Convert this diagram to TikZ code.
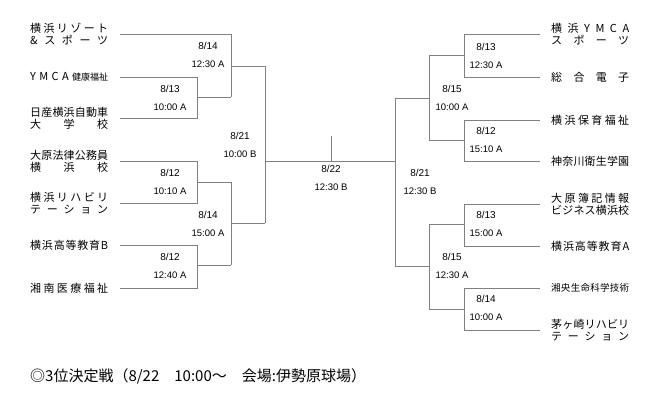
\documentclass[tikz,border=0pt]{standalone}
\usepackage{fontspec}
\setmainfont{Liberation Sans}
\newfontfamily\jp{Noto Sans CJK JP}
\newcommand\tm[1]{\makebox[78pt][s]{#1}}
\begin{document}
\begin{tikzpicture}[x=1pt,y=-1pt,
  ln/.style={draw=black!50,line width=0.8pt},
  nm/.style={anchor=west,inner sep=0pt,align=left,font=\jp\fontsize{11}{12}\selectfont},
  dt/.style={inner sep=0pt,font=\fontsize{9.5}{10}\selectfont}]
\useasboundingbox (0,0) rectangle (662,410);
% left names
\node[nm] (l1) at (30,34) {\tm{横\hfill 浜\hfill リ\hfill ゾ\hfill ー\hfill ト}\\\tm{\&\hfill ス\hfill ポ\hfill ー\hfill ツ}};
\node[nm] (l2) at (30,77) {\tm{Y\hfill M\hfill C\hfill A\hfill{\fontsize{9}{10}\selectfont 健康福祉}}};
\node[nm] (l3) at (30,118) {\tm{日\hfill 産\hfill 横\hfill 浜\hfill 自\hfill 動\hfill 車}\\\tm{大\hfill 学\hfill 校}};
\node[nm] (l4) at (30,161) {\tm{大\hfill 原\hfill 法\hfill 律\hfill 公\hfill 務\hfill 員}\\\tm{横\hfill 浜\hfill 校}};
\node[nm] (l5) at (30,203) {\tm{横\hfill 浜\hfill リ\hfill ハ\hfill ビ\hfill リ}\\\tm{テ\hfill ー\hfill シ\hfill ョ\hfill ン}};
\node[nm] (l6) at (30,245) {\tm{横\hfill 浜\hfill 高\hfill 等\hfill 教\hfill 育\hfill B}};
\node[nm] (l7) at (30,288) {\tm{湘\hfill 南\hfill 医\hfill 療\hfill 福\hfill 祉}};
% right names
\node[nm] (r1) at (551,34) {\tm{横\hfill 浜\hfill Y\hfill M\hfill C\hfill A}\\\tm{ス\hfill ポ\hfill ー\hfill ツ}};
\node[nm] (r2) at (551,77) {\tm{総\hfill 合\hfill 電\hfill 子}};
\node[nm] (r3) at (551,120) {\tm{横\hfill 浜\hfill 保\hfill 育\hfill 福\hfill 祉}};
\node[nm] (r4) at (551,161) {\tm{神\hfill 奈\hfill 川\hfill 衛\hfill 生\hfill 学\hfill 園}};
\node[nm] (r5) at (551,204) {\tm{大\hfill 原\hfill 簿\hfill 記\hfill 情\hfill 報}\\\tm{ビ\hfill ジ\hfill ネ\hfill ス\hfill 横\hfill 浜\hfill 校}};
\node[nm] (r6) at (551,246) {\tm{横\hfill 浜\hfill 高\hfill 等\hfill 教\hfill 育\hfill A}};
\node[nm] (r7) at (551,288) {\tm{\fontsize{9.5}{10}\selectfont 湘\hfill 央\hfill 生\hfill 命\hfill 科\hfill 学\hfill 技\hfill 術}};
\node[nm] (r8) at (551,330) {\tm{茅\hfill ヶ\hfill 崎\hfill リ\hfill ハ\hfill ビ\hfill リ}\\\tm{テ\hfill ー\hfill シ\hfill ョ\hfill ン}};
% left lines
\draw[ln] (120,34)--(231,34)--(231,97);
\draw[ln] (120,77)--(197,77)--(197,118)--(120,118);
\draw[ln] (197,97)--(231,97);
\draw[ln] (231,66)--(265,66);
\draw[ln] (120,161)--(197,161)--(197,203)--(120,203);
\draw[ln] (197,182)--(231,182);
\draw[ln] (120,245)--(197,245)--(197,288)--(120,288);
\draw[ln] (197,265)--(231,265);
\draw[ln] (231,182)--(231,265);
\draw[ln] (231,223)--(265,223);
\draw[ln] (265,66)--(265,223);
\draw[ln] (265,161)--(395,161);
\draw[ln] (331,136)--(331,161);
% right lines
\draw[ln] (540,34)--(464,34)--(464,77)--(540,77);
\draw[ln] (464,55)--(429,55);
\draw[ln] (540,120)--(464,120)--(464,161)--(540,161);
\draw[ln] (464,140)--(429,140);
\draw[ln] (429,55)--(429,140);
\draw[ln] (429,98)--(395,98);
\draw[ln] (540,204)--(464,204)--(464,246)--(540,246);
\draw[ln] (464,224)--(429,224);
\draw[ln] (540,288)--(464,288)--(464,330)--(540,330);
\draw[ln] (464,309)--(429,309);
\draw[ln] (429,224)--(429,309);
\draw[ln] (429,266)--(395,266);
\draw[ln] (395,98)--(395,266);
% labels
\foreach \n/\x/\y/\d/\t in {a/208/46/8\slash 14/12:30 A, b/170/89/8\slash 13/10:00 A, c/240/136/8\slash 21/10:00 B,
  d/170/173/8\slash 12/10:10 A, e/208/215/8\slash 14/15:00 A, f/170/257/8\slash 12/12:40 A, g/331/169/8\slash 22/12:30 B,
  h/486/47/8\slash 13/12:30 A, i/452/89/8\slash 15/10:00 A, j/486/131/8\slash 12/15:10 A, k/420/173/8\slash 21/12:30 B,
  l/486/215/8\slash 13/15:00 A, m/452/257/8\slash 15/12:30 A, o/486/299/8\slash 14/10:00 A}{
  \node[dt,font=\fontsize{10}{11}\selectfont] (d\n) at (\x,\y) {\d};
  \node[dt] (t\n) at (\x,\y+18) {\t};
}
\node[anchor=west,inner sep=0pt,font=\jp\fontsize{15}{16}\selectfont] (foot) at (30,376) {◎3位決定戦（8/22　10:00～　会場:伊勢原球場）};
\end{tikzpicture}
\end{document}
